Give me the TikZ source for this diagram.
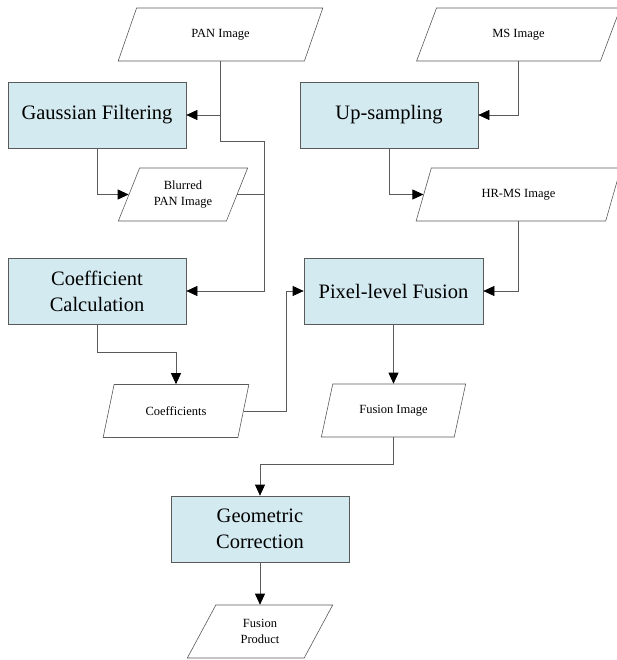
\documentclass[tikz,border=0pt]{standalone}
\usepackage{fontspec}
\setmainfont{Liberation Serif}
\usetikzlibrary{shapes.geometric,arrows.meta}
\definecolor{boxfill}{HTML}{D3EAF0}
\definecolor{linegray}{HTML}{5A5A5A}
\tikzset{
  proc/.style={draw=linegray, line width=0.7pt, fill=boxfill, minimum width=178pt, minimum height=66pt, inner sep=2pt, align=center, font=\rmfamily\fontsize{20.5}{26}\selectfont},
  data/.style={draw=linegray, line width=0.6pt, fill=white, trapezium, trapezium left angle=63, trapezium right angle=117, trapezium stretches=true, minimum height=53pt, inner sep=1pt, align=center, font=\rmfamily\fontsize{12.5}{15.5}\selectfont},
  conn/.style={draw=linegray, line width=0.7pt, -{Triangle[length=11pt,width=10pt,black]}},
  plainline/.style={draw=linegray, line width=0.7pt}
}
\begin{document}
\begin{tikzpicture}[x=1pt,y=-1pt]
\useasboundingbox (0,0) rectangle (616,660);
% data nodes
\node[data, minimum width=205pt] (PAN) at (220.5,34.5) {PAN Image};
\node[data, minimum width=205pt] (MS) at (518.5,34.5) {MS Image};
\node[data, minimum width=130pt] (BP) at (183,194.5) {Blurred\\PAN Image};
\node[data, minimum width=205pt] (HR) at (518.5,194.5) {HR-MS Image};
\node[data, minimum width=146pt] (CO) at (176,411) {Coefficients};
\node[data, minimum width=145pt] (FI) at (393.5,410.5) {Fusion Image};
\node[data, minimum width=146pt] (FP) at (260,631.5) {Fusion\\Product};
% process nodes
\node[proc] (GF) at (97,115) {Gaussian Filtering};
\node[proc] (UP) at (389,115) {Up-sampling};
\node[proc] (CC) at (97,291) {Coefficient\\Calculation};
\node[proc, minimum width=179pt] (PLF) at (393.5,291) {Pixel-level Fusion};
\node[proc] (GC) at (260,529) {Geometric\\Correction};
% connectors
\coordinate (j1) at (264,141);
\draw[conn] (PAN.center |- PAN.south) |- (GF.east);
\draw[conn] (PAN.center |- PAN.south) |- (j1) |- (CC.east);
\draw[conn] (GF.south) |- (BP.west);
\draw[plainline] (BP.east) -- (BP.east -| j1);
\draw[conn] (CC.south) -- ++(0,28) -| (CO.center |- CO.north);
\draw[conn] (CO.east) -- ++(43,0) |- (PLF.west);
\draw[conn] (MS.center |- MS.south) |- (UP.east);
\draw[conn] (UP.south) |- (HR.west);
\draw[conn] (HR.center |- HR.south) |- (PLF.east);
\draw[conn] (PLF.south) -- (FI.center |- FI.north);
\draw[conn] (FI.center |- FI.south) -- ++(0,27) -| (GC.north);
\draw[conn] (GC.south) -- (FP.center |- FP.north);
\end{tikzpicture}
\end{document}
